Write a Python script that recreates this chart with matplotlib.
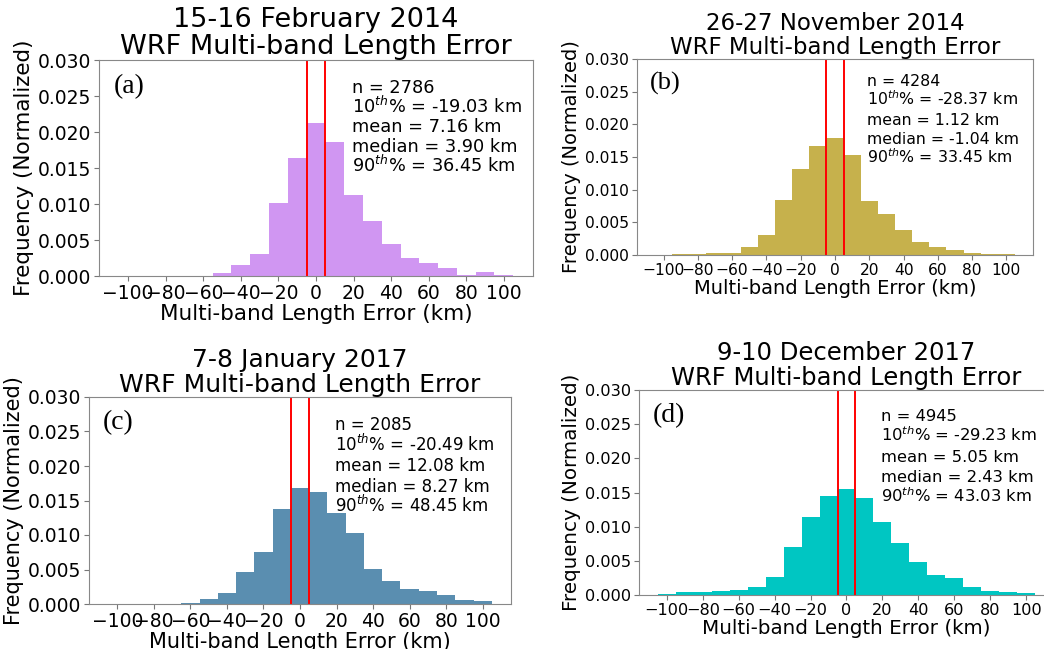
import numpy as np
import matplotlib
matplotlib.use('Agg')
import matplotlib.pyplot as plt

plt.rcParams['font.family'] = ['DejaVu Sans']
plt.rcParams['mathtext.fontset'] = 'dejavusans'

# ----------- data -----------
bin_centers = [-100, -90, -80, -70, -60, -50, -40, -30, -20, -10, 0,
               10, 20, 30, 40, 50, 60, 70, 80, 90, 100]

freq_a = [0, 0, 0, 0, 0, 0.0004, 0.0015, 0.0031, 0.0101, 0.0164, 0.0212,
          0.0186, 0.0113, 0.0076, 0.0045, 0.0025, 0.0018, 0.0011, 0.0002, 0.0006, 0.0001]
freq_b = [0, 0.0001, 0.0001, 0.0003, 0.0003, 0.0012, 0.0030, 0.0084, 0.0132, 0.0167, 0.0179,
          0.0153, 0.0083, 0.0063, 0.0038, 0.0020, 0.0013, 0.0008, 0.0003, 0.0002, 0.0002]
freq_c = [0, 0, 0, 0, 0.0001, 0.0007, 0.0016, 0.0046, 0.0076, 0.0137, 0.0168,
          0.0163, 0.0132, 0.0103, 0.0051, 0.0034, 0.0022, 0.0019, 0.0013, 0.0006, 0.0004]
freq_d = [0.0002, 0.0004, 0.0004, 0.0006, 0.0007, 0.0011, 0.0026, 0.0070, 0.0114, 0.0145, 0.0155,
          0.0142, 0.0107, 0.0076, 0.0049, 0.0029, 0.0025, 0.0012, 0.0006, 0.0004, 0.0003]

dates = ['15-16 February 2014', '26-27 November 2014',
         '7-8 January 2017', '9-10 December 2017']
panel_tags = ['(a)', '(b)', '(c)', '(d)']
n_cases = [2786, 4284, 2085, 4945]
p10 = ['-19.03', '-28.37', '-20.49', '-29.23']
means = ['7.16', '1.12', '12.08', '5.05']
medians = ['3.90', '-1.04', '8.27', '2.43']
p90 = ['36.45', '33.45', '48.45', '43.03']
bar_colors = ['#d096f2', '#c6b14c', '#5a8eb0', '#00c6c2']
red_lines = [-5, 5]

# ----------- layout (pixel boxes: left, top, right, bottom) -----------
W, H = 1044, 649
boxes = [(99, 60, 533, 276), (637, 59, 1033, 255),
         (89, 397, 511, 604), (639, 390, 1054, 595)]
# title, tick, label, stats, tag font sizes, stats line step (px), stats anchor y
sizes = [(19.5, 13.5, 15.5, 12.8, 20, 19.6, 0.847),
         (16.5, 11.2, 14.0, 11.3, 19, 19.4, 0.863),
         (18.0, 13.5, 15.0, 12.0, 20, 20.6, 0.842),
         (17.5, 11.6, 14.3, 11.8, 20, 20.4, 0.85)]

fig = plt.figure(figsize=(W / 100, H / 100), dpi=100)
freqs = [freq_a, freq_b, freq_c, freq_d]

for i in range(4):
    l, t, r, b = boxes[i]
    ax = fig.add_axes([l / W, 1 - b / H, (r - l) / W, (b - t) / H])
    fs_title, fs_tick, fs_lab, fs_stat, fs_tag, step, y0 = sizes[i]

    ax.bar(bin_centers, freqs[i], width=10, color=bar_colors[i], align='center')
    for xv in red_lines:
        ax.axvline(xv, color='red', lw=1.4)

    ax.set_xlim(-115.5, 115.5)
    ax.set_ylim(0, 0.030)
    ax.set_xticks(np.arange(-100, 101, 20))
    ax.set_yticks(np.arange(0, 0.0301, 0.005))
    ax.yaxis.set_major_formatter(matplotlib.ticker.FormatStrFormatter('%.3f'))
    ax.tick_params(labelsize=fs_tick, color='#777777', pad=2)
    for sp in ax.spines.values():
        sp.set_color('#888888')

    ax.set_title(dates[i] + '\nWRF Multi-band Length Error', fontsize=fs_title,
                 pad=3, linespacing=1.05)
    ax.set_xlabel('Multi-band Length Error (km)', fontsize=fs_lab, labelpad=1)
    ax.set_ylabel('Frequency (Normalized)', fontsize=fs_lab, labelpad=3)

    ax.text(0.033, 0.935, panel_tags[i], transform=ax.transAxes, va='top', ha='left',
            fontsize=fs_tag, family='Liberation Serif')

    lines = [f'n = {n_cases[i]}',
             f'10$^{{th}}$% = {p10[i]} km',
             f'mean = {means[i]} km',
             f'median = {medians[i]} km',
             f'90$^{{th}}$% = {p90[i]} km']
    for k, line in enumerate(lines):
        ax.annotate(line, xy=(0.582, y0), xycoords='axes fraction',
                    xytext=(0, -k * step * 0.72), textcoords='offset points',
                    va='baseline', ha='left', fontsize=fs_stat)

fig.savefig('out.png', dpi=100)
